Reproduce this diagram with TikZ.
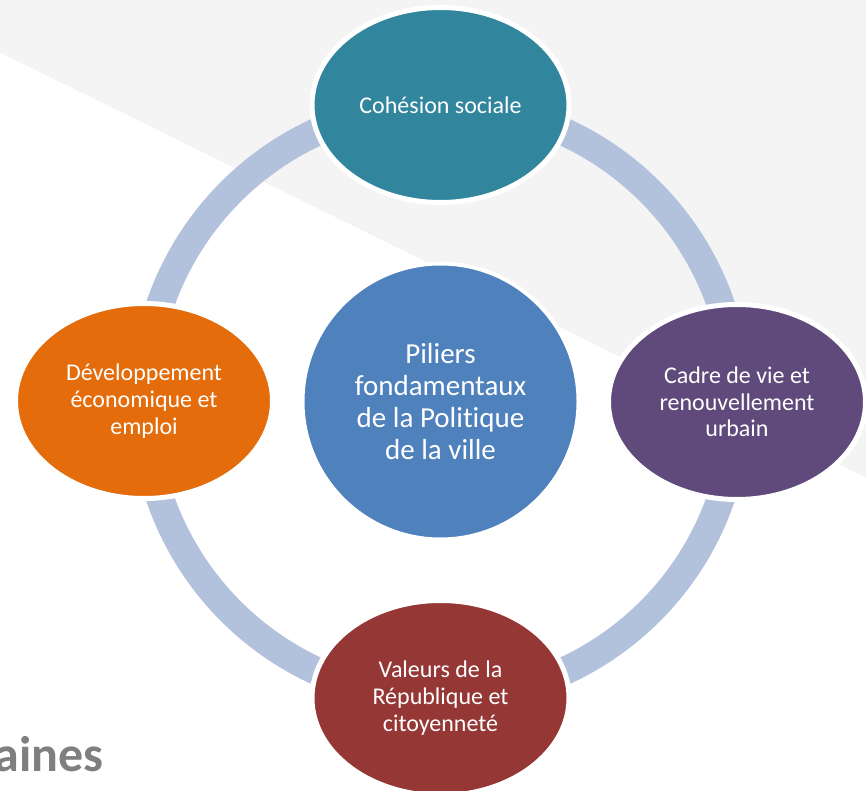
\documentclass[tikz,border=0pt]{standalone}
\usepackage{fontspec}
\setmainfont{Carlito}[Ligatures=NoCommon]
\usetikzlibrary{shapes.geometric}
\definecolor{fondgris}{HTML}{F4F4F4}
\definecolor{anneau}{HTML}{B3C2DC}
\definecolor{pilbleu}{HTML}{4F81BD}
\definecolor{pilsarcelle}{HTML}{31859C}
\definecolor{pilviolet}{HTML}{604A7B}
\definecolor{pilrouge}{HTML}{953735}
\definecolor{pilorange}{HTML}{E46C0A}
\definecolor{titregris}{HTML}{7F7F7F}
\begin{document}
\begin{tikzpicture}[x=0.75pt,y=-0.75pt,
  pil/.style={ellipse, fill=#1, draw=white, line width=3.75pt, inner sep=0pt,
    minimum width=192.75pt, minimum height=146.25pt,
    text=white, align=center, font=\fontsize{18}{20}\selectfont}]
\useasboundingbox (0,0) rectangle (866,791);
\clip (0,0) rectangle (866,791);
% fond
\fill[fondgris] (0,0) -- (866,0) -- (866,477) -- (0,52) -- cycle;
\draw[gray!12, line width=0.4pt] (0,52) -- (866,477);
% anneau
\coordinate (ctr) at (440.5,401.5);
\draw[anneau, line width=21pt] (ctr) circle[radius=222.4pt];
% centre
\node[circle, fill=pilbleu, draw=white, line width=3pt, minimum size=207pt, inner sep=0pt,
  text=white, align=center, font=\fontsize{21.75}{24}\selectfont] (pil0) at (ctr)
  {Piliers\\fondamentaux\\de la Politique\\de la ville};
% piliers
\node[pil=pilsarcelle] (pil1) at (440.5,105) {Cohésion sociale};
\node[pil=pilviolet] (pil2) at (737,402) {Cadre de vie et\\renouvellement\\urbain};
\node[pil=pilrouge] (pil3) at (440.5,698) {Valeurs de la\\République et\\citoyenneté};
\node[pil=pilorange] (pil4) at (144,401) {Développement\\économique et\\emploi};
% titre
\node[anchor=base east, inner sep=0pt, text=titregris,
  font=\bfseries\fontsize{37.5}{40}\selectfont] (titre) at (104,771) {aines};
\end{tikzpicture}
\end{document}
